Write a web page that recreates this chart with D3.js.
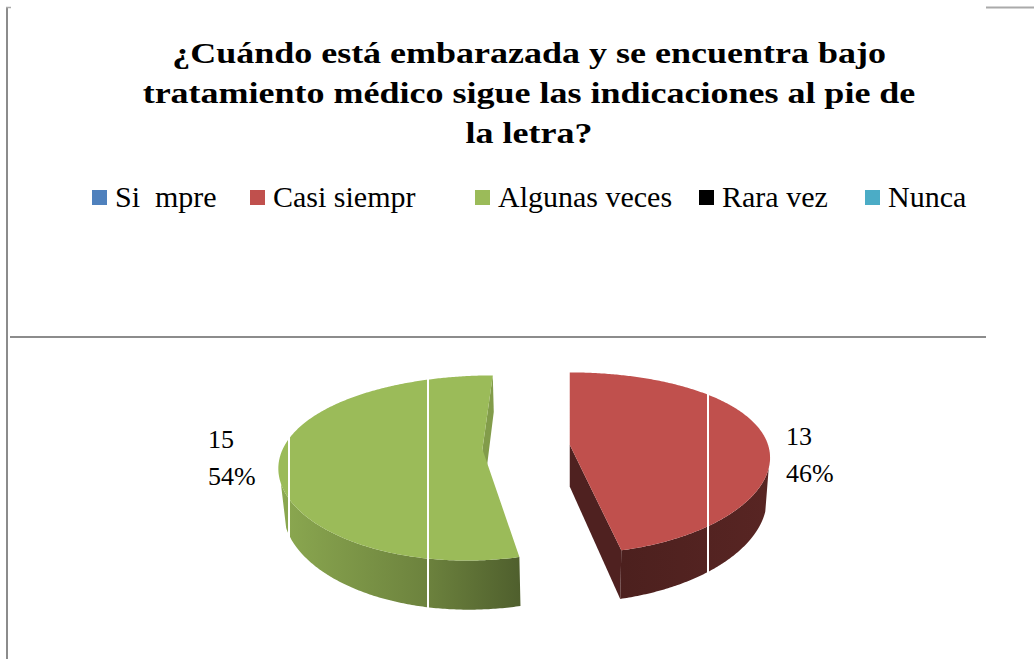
<!DOCTYPE html>
<html>
<head>
<meta charset="utf-8">
<script src="https://cdn.jsdelivr.net/npm/d3@7"></script>
<style>
  body { margin: 0; background: #fff; }
  text { font-family: "Liberation Serif", "Times New Roman", serif; }
</style>
</head>
<body>
<script>
var width = 1034,
    height = 659;

// data
var categories = ["Si  mpre", "Casi siempr", "Algunas veces", "Rara vez", "Nunca"];
var values = [0, 13, 15, 0, 0];
var colors = ["#4F81BD", "#C0504D", "#9BBB59", "#000000", "#4BACC6"];
var titleLines = ["¿Cuándo está embarazada y se encuentra bajo",
                  "tratamiento médico sigue las indicaciones al pie de",
                  "la letra?"];

var svg = d3.select("body").append("svg").attr("width", width).attr("height", height);
svg.append("rect").attr("width", width).attr("height", height).attr("fill", "#fff");
var defs = svg.append("defs");

// frame lines of the page
svg.append("line").attr("x1", 7).attr("x2", 7).attr("y1", 7).attr("y2", height)
    .attr("stroke", "#8c8c8c").attr("stroke-width", 2);
svg.append("line").attr("x1", 6).attr("x2", 11).attr("y1", 7.5).attr("y2", 7.5)
    .attr("stroke", "#aaa").attr("stroke-width", 1.5);
svg.append("line").attr("x1", 10).attr("x2", 986).attr("y1", 337).attr("y2", 337)
    .attr("stroke", "#8c8c8c").attr("stroke-width", 2);
svg.append("line").attr("x1", 986).attr("x2", width).attr("y1", 7.5).attr("y2", 7.5)
    .attr("stroke", "#aaa").attr("stroke-width", 2);

// title (the source picture is stretched sideways)
svg.append("g").attr("transform", "translate(529,0) scale(1.2,1)")
  .selectAll("text")
    .data(titleLines)
  .enter().append("text")
    .attr("x", 0)
    .attr("y", function(d, i){ return 63 + i * 40; })
    .attr("text-anchor", "middle")
    .attr("font-size", 30)
    .attr("font-weight", "bold")
    .text(function(d){ return d; });

// legend
var legendX = [92, 250, 475, 699, 865];
var legend = svg.append("g").selectAll("g")
    .data(categories)
  .enter().append("g")
    .attr("transform", function(d, i){ return "translate(" + legendX[i] + ",190)"; });
legend.append("rect").attr("width", 15).attr("height", 15)
    .attr("fill", function(d, i){ return colors[i]; });
legend.append("text").attr("x", 23).attr("y", 17)
    .attr("font-size", 30)
    .style("white-space", "pre")
    .text(function(d){ return d; });

// 3d pie
var total = d3.sum(values);
var pie = d3.pie().sort(null).value(function(d){ return d.value; });
var arcs = pie(values.map(function(v, i){ return {value: v, name: categories[i], color: colors[i]}; }))
    .filter(function(d){ return d.value > 0; });

var S = 199, DIST = 4.44, PHI = 26.2 * Math.PI / 180, THICK = 0.24, EXPLODE = 0.22;
var camX = 0.22, ox = 570, oy = 447, KX = 0.7;
var cosP = Math.cos(PHI), sinP = Math.sin(PHI);
var cam = [camX, DIST * sinP, DIST * cosP];

function project(p) {
  var xp = p[0] - camX;
  var zc = p[2] * cosP + p[1] * sinP;
  var yc = p[1] * cosP - p[2] * sinP;
  var f = DIST / (DIST - zc);
  return [ox + S * xp * (1 + (f - 1) * KX), oy - S * yc * f];
}
function visible(n, p) {
  return n[0] * (cam[0] - p[0]) + n[1] * (cam[1] - p[1]) + n[2] * (cam[2] - p[2]) > 0;
}
function poly(pts) { return "M" + pts.map(project).join("L") + "Z"; }

var pieG = svg.append("g");

arcs.forEach(function(d, si) {
  var m = (d.startAngle + d.endAngle) / 2;
  var c = [EXPLODE * Math.sin(m), 0, -EXPLODE * Math.cos(m)];
  function rim(t, y) { return [c[0] + Math.sin(t), y, c[2] - Math.cos(t)]; }
  var base = d3.color(d.data.color);
  var isRed = d.data.name === "Casi siempr";
  var g = pieG.append("g");

  // cut faces
  [[d.startAngle, -1], [d.endAngle, 1]].forEach(function(e) {
    var t = e[0], n = [e[1] * Math.cos(t), 0, e[1] * Math.sin(t)];
    if (!visible(n, c)) return;
    g.append("path")
        .attr("d", poly([[c[0], 0, c[2]], rim(t, 0), rim(t, -THICK), [c[0], -THICK, c[2]]]))
        .attr("fill", isRed ? base.darker(2.5) : base.darker(0.5));
  });

  // outer wall, split into visible runs
  var steps = Math.ceil((d.endAngle - d.startAngle) / 0.01);
  var runs = [], run = null;
  for (var k = 0; k <= steps; k++) {
    var t = d.startAngle + (d.endAngle - d.startAngle) * k / steps;
    var vis = visible([Math.sin(t), 0, -Math.cos(t)], rim(t, 0));
    if (vis) { if (!run) { run = []; runs.push(run); } run.push(t); }
    else run = null;
  }
  runs.forEach(function(r, ri) {
    var pts = r.map(function(t){ return rim(t, 0); })
        .concat(r.slice().reverse().map(function(t){ return rim(t, -THICK); }));
    var xs = pts.map(function(p){ return project(p)[0]; });
    var id = "wall" + si + "_" + ri;
    var grad = defs.append("linearGradient").attr("id", id)
        .attr("gradientUnits", "userSpaceOnUse")
        .attr("x1", d3.min(xs)).attr("x2", d3.max(xs)).attr("y1", 0).attr("y2", 0);
    var stops = isRed ? [[0, 2.6], [1, 2.2]] : [[0, 0.3], [0.6, 1.0], [1, 1.9]];
    stops.forEach(function(s){
      grad.append("stop").attr("offset", s[0]).attr("stop-color", base.darker(s[1]));
    });
    g.append("path").attr("d", poly(pts)).attr("fill", "url(#" + id + ")");
  });

  // top face
  var top = [[c[0], 0, c[2]]];
  for (var k2 = 0; k2 <= steps; k2++) {
    top.push(rim(d.startAngle + (d.endAngle - d.startAngle) * k2 / steps, 0));
  }
  g.append("path").attr("d", poly(top)).attr("fill", d.data.color);
});

// white rules crossing the chart
var gridX = [289, 428, 708];
svg.append("g").selectAll("line")
    .data(gridX)
  .enter().append("line")
    .attr("x1", function(d){ return d; }).attr("x2", function(d){ return d; })
    .attr("y1", 345).attr("y2", 650)
    .attr("stroke", "#fff").attr("stroke-width", 2);

// data labels
var labelPos = {"Casi siempr": [786, 445], "Algunas veces": [208, 448]};
arcs.forEach(function(d) {
  var p = labelPos[d.data.name];
  var t = svg.append("text").attr("font-size", 26);
  t.append("tspan").attr("x", p[0]).attr("y", p[1]).text(d.value);
  t.append("tspan").attr("x", p[0]).attr("y", p[1] + 37)
      .text(Math.round(d.value / total * 100) + "%");
});
</script>
</body>
</html>
